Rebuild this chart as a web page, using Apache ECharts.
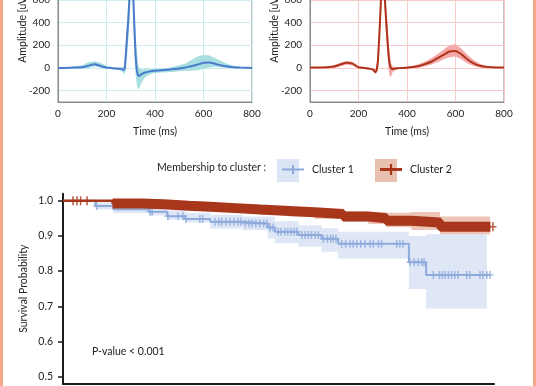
<!DOCTYPE html>
<html><head><meta charset="utf-8">
<script src="https://cdn.jsdelivr.net/npm/echarts@6/dist/echarts.min.js"></script>
<style>html,body{margin:0;padding:0;background:#fff}#c{width:536px;height:386px}</style>
</head><body><div id="c"></div>
<script>
// ---------- ECG average waveforms (ms, uV) ----------
const ecgTime = [0,25,50,75,100,125,150,175,200,225,250,260,270,275,280,285,290,295,300,305,310,315,320,325,330,335,340,350,360,380,400,425,450,475,500,525,550,575,600,625,650,675,700,725,750,775,800];
const c1Mean = [0,0,2,4,6,20,32,18,3,-2,-6,-8,-15,-5,130,280,430,620,900,940,650,360,110,-20,-62,-70,-62,-48,-40,-30,-25,-20,-15,-10,-5,5,15,30,45,48,35,22,13,7,4,2,0];
const c1Low  = [-5,-5,-5,-5,-8,0,12,5,-8,-12,-18,-25,-45,-55,-20,100,250,430,700,750,450,150,-60,-150,-185,-180,-150,-110,-80,-55,-45,-40,-38,-35,-30,-25,-25,-20,-10,5,10,5,0,-2,-2,-3,-5];
const c1High = [5,5,8,15,25,50,60,45,20,8,4,5,10,30,250,420,600,820,1000,1000,820,520,300,150,40,0,-10,-15,-10,-10,-8,-5,0,10,25,40,70,100,115,110,85,60,35,20,10,5,5];
const c2Mean = [3,3,4,6,12,30,45,38,5,0,-8,-15,-35,-15,60,250,470,730,950,780,560,380,230,90,20,-5,-10,-5,-3,0,2,8,18,35,55,85,115,145,150,120,75,40,20,10,7,5,5];
const c2Low  = [-3,-3,-3,-2,2,15,28,22,-5,-8,-15,-30,-55,-45,-10,150,350,600,850,650,430,250,100,-30,-80,-70,-40,-20,-12,-8,-5,-2,5,15,30,50,75,95,100,75,40,18,5,2,2,2,2];
const c2High = [8,8,10,15,25,45,62,55,20,8,0,-2,-15,40,150,380,600,860,1000,900,700,520,380,200,110,40,15,8,6,8,12,20,35,58,85,120,160,200,210,170,115,70,38,20,13,10,9];

// ---------- Kaplan-Meier (months, survival) ----------
const kmTime1 = [0,9,14,24,29,34,41,50,57,59,65.5,72,76.6,96.3,101.1,119];
const kmSurv1 = [1.0,0.985,0.976,0.969,0.956,0.948,0.94,0.935,0.924,0.912,0.9025,0.892,0.878,0.825,0.789,0.789];
const kmLow1  = [1.0,0.975,0.965,0.958,0.946,0.938,0.921,0.916,0.893,0.879,0.869,0.855,0.836,0.749,0.694,0.694];
const kmHigh1 = [1.0,0.995,0.988,0.982,0.972,0.966,0.96,0.955,0.955,0.942,0.93,0.922,0.912,0.9,0.905,0.905];
const kmCiEnd1 = 118.0;
const kmCensor1 = [9.4,24.2,24.8,29.2,32.0,33.4,34.2,38.1,38.9,42.3,43.4,44.2,45.4,46.5,47.6,48.7,49.5,50.7,51.8,52.6,53.7,54.8,55.9,56.8,57.6,58.5,59.9,60.7,61.8,62.6,63.5,64.3,65.1,66.5,67.4,68.3,69.2,70.2,71.1,72.5,73.6,74.5,75.2,76.0,77.6,78.7,79.9,80.8,81.8,82.9,84.1,85.5,86.4,87.8,88.7,92.9,93.8,94.7,96.6,97.8,98.9,99.9,100.5,103.1,104.8,105.6,106.4,107.3,108.2,109.1,110.0,112.4,113.3,116.1,116.9,118.0,118.9];

const kmTime2 = [0,13.8,22,28,35,41,48,55,63,70,78,85,90,97,105,119];
const kmSurv2 = [1.0,0.992,0.99,0.986,0.983,0.979,0.975,0.971,0.967,0.962,0.955,0.95,0.943,0.938,0.926,0.926];
const kmLow2  = [1.0,0.986,0.983,0.979,0.975,0.97,0.965,0.96,0.955,0.949,0.941,0.934,0.925,0.917,0.905,0.905];
const kmHigh2 = [1.0,0.997,0.996,0.993,0.991,0.988,0.985,0.982,0.979,0.975,0.97,0.967,0.966,0.968,0.955,0.955];
const kmCiEnd2 = 118.9;
const kmDenseCensorStart2 = 13.8; // from here on censoring marks merge into a solid band
const kmCensor2 = [2.8,3.9,4.9,6.7,119.7];

const ecgXTicks = [0,200,400,600,800];
const kmYTicks = [0.5,0.6,0.7,0.8,0.9,1.0];

// ---------- helpers ----------
const FONT = 'Lato';
const pair = (xs, ys) => xs.map((x, i) => [x, ys[i]]);
function stepAt(T, S, t) { let v = S[0]; for (let i = 0; i < T.length; i++) { if (T[i] <= t) v = S[i]; else break; } return v; }

const plusPath = 'path://M0,3.3H8V4.7H0Z M3.1,0H4.9V8H3.1Z';

// band polygon through the library's coordinate system
function bandSeries(gi, T, low, high, color, step, endT, z) {
  return {
    type: 'custom', xAxisIndex: gi, yAxisIndex: gi, silent: true, clip: true, z: z || 1,
    data: T.map((t, i) => [t, low[i], high[i]]),
    encode: { x: 0, y: [1, 2] },
    renderItem: function (params, api) {
      if (params.dataIndex !== 0) return null;
      const up = [], dn = [];
      const n = T.length;
      for (let i = 0; i < n; i++) {
        if (step) {
          if (i === n - 1) break;
          const tEnd = (i === n - 2 && endT != null) ? endT : T[i + 1];
          up.push(api.coord([T[i], high[i]]), api.coord([tEnd, high[i]]));
          dn.push(api.coord([T[i], low[i]]), api.coord([tEnd, low[i]]));
        } else {
          up.push(api.coord([T[i], high[i]]));
          dn.push(api.coord([T[i], low[i]]));
        }
      }
      return { type: 'polygon', shape: { points: up.concat(dn.reverse()) }, style: { fill: color } };
    }
  };
}

function ecgGrid(left) {
  return { left: left, top: -45.5, width: 194, height: 147.5, show: true, borderColor: '#8a8a8a', borderWidth: 1, outerBoundsMode: 'none', containLabel: false };
}
function ecgX(gi, grid) {
  return { gridIndex: gi, type: 'value', min: 0, max: 800, interval: 200,
    axisLine: { onZero: false, lineStyle: { color: '#8a8a8a', width: 1 } }, axisTick: { show: false },
    axisLabel: { color: '#222', fontSize: 10, fontFamily: FONT, margin: 7, customValues: ecgXTicks },
    splitLine: { show: true, lineStyle: { color: grid, width: 1 } },
    name: 'Time (ms)', nameLocation: 'middle', nameGap: 24, nameMoveOverlap: false,
    nameTextStyle: { color: '#222', fontSize: 10.5, fontFamily: FONT } };
}
function ecgY(gi, grid) {
  return { gridIndex: gi, type: 'value', min: -300, max: 1000, minInterval: 200, maxInterval: 200,
    axisLine: { show: true, onZero: false, lineStyle: { color: '#8a8a8a', width: 1 } }, axisTick: { show: false },
    axisLabel: { color: '#222', fontSize: 10, fontFamily: FONT, margin: 8, showMinLabel: false },
    splitLine: { show: true, lineStyle: { color: grid, width: 1 } },
    name: 'Amplitude [uV]', nameLocation: 'middle', nameGap: 30, nameMoveOverlap: false,
    nameTextStyle: { color: '#222', fontSize: 10.5, fontFamily: FONT } };
}
function ecgSeries(gi, low, high, mean, bandColor, lineColor) {
  return [
    bandSeries(gi, ecgTime, low, high, bandColor, false, null, 1),
    { type: 'line', xAxisIndex: gi, yAxisIndex: gi, symbol: 'none', smooth: 0.2, silent: true, data: pair(ecgTime, mean), lineStyle: { color: lineColor, width: 2 }, z: 3 }
  ];
}

const C1 = '#8eaadc', C2 = '#a8361b';
const denseIdx = kmTime2.findIndex(t => t >= kmDenseCensorStart2);

const option = {
  animation: false,
  textStyle: { fontFamily: FONT },
  grid: [ecgGrid(58), ecgGrid(310),
    { left: 63, top: 193.7, width: 431, height: 190, outerBoundsMode: 'none', containLabel: false }],
  xAxis: [ecgX(0, '#cdeef0'), ecgX(1, '#f8caca'),
    { gridIndex: 2, type: 'value', min: 0, max: 120,
      axisLine: { onZero: false, lineStyle: { color: '#1a1a1a', width: 2 } }, axisTick: { show: false },
      axisLabel: { show: false }, splitLine: { show: false } }],
  yAxis: [ecgY(0, '#cdeef0'), ecgY(1, '#f8caca'),
    { gridIndex: 2, type: 'value', min: 0.48, max: 1.02,
      axisLine: { show: true, onZero: false, lineStyle: { color: '#1a1a1a', width: 2 } },
      axisTick: { show: true, length: 5, customValues: kmYTicks, lineStyle: { color: '#1a1a1a', width: 1.5 } },
      axisLabel: { customValues: kmYTicks, formatter: v => v.toFixed(1), color: '#222', fontSize: 10.5, fontFamily: FONT, margin: 10 },
      splitLine: { show: false },
      name: 'Survival Probability', nameLocation: 'middle', nameGap: 34, nameMoveOverlap: false,
      nameTextStyle: { color: '#222', fontSize: 10.5, fontFamily: FONT } }],
  legend: [
    { data: ['Cluster 1'], left: 277, top: 159, itemWidth: 22, itemHeight: 23, icon: 'path://M1,10.5H21V12.5H1Z M10.1,7.5H11.9V15.5H10.1Z',
      textStyle: { color: '#222', fontSize: 10.5, fontFamily: FONT, padding: [0, 0, 3, 3] }, z: 10, selectedMode: false },
    { data: ['Cluster 2'], left: 375, top: 159, itemWidth: 22, itemHeight: 23, icon: 'path://M1,9.6H21V12.4H1Z M10,6H12V16H10Z',
      textStyle: { color: '#222', fontSize: 10.5, fontFamily: FONT, padding: [0, 0, 3, 3] }, z: 10, selectedMode: false }
  ],
  graphic: [
    { type: 'rect', left: 0, top: 0, shape: { width: 3, height: 386 }, style: { fill: '#f4a68b' }, z: 100 },
    { type: 'rect', left: 533, top: 0, shape: { width: 3, height: 386 }, style: { fill: '#f4a68b' }, z: 100 },
    { type: 'rect', x: 277, y: 159, shape: { width: 22, height: 23 }, style: { fill: '#dce5f5' }, z: 0 },
    { type: 'rect', x: 375, y: 159, shape: { width: 22, height: 23 }, style: { fill: '#e9c1b1' }, z: 0 },
    { type: 'text', x: 157, y: 168, style: { text: 'Membership to cluster :', fill: '#222', fontSize: 10.5, fontFamily: FONT, verticalAlign: 'middle' }, z: 10 },
    { type: 'text', x: 92, y: 352, style: { text: 'P-value < 0.001', fill: '#222', fontSize: 10.5, fontFamily: FONT, verticalAlign: 'middle' }, z: 10 }
  ],
  series: [].concat(
    ecgSeries(0, c1Low, c1High, c1Mean, '#a9dfe0', '#4a7bcc'),
    ecgSeries(1, c2Low, c2High, c2Mean, '#f3a9a9', '#b0331b'),
    [
      bandSeries(2, kmTime1, kmLow1, kmHigh1, '#dfe7f7', true, kmCiEnd1, 1),
      bandSeries(2, kmTime2, kmLow2, kmHigh2, '#ecc5b6', true, kmCiEnd2, 2),
      { name: 'Cluster 1', type: 'line', xAxisIndex: 2, yAxisIndex: 2, step: 'end', symbol: 'none', data: pair(kmTime1, kmSurv1),
        color: C1, lineStyle: { color: C1, width: 2 }, itemStyle: { color: C1 }, z: 4 },
      { name: 'Cluster 1', type: 'scatter', xAxisIndex: 2, yAxisIndex: 2, symbol: plusPath, symbolSize: [7, 8], symbolKeepAspect: false,
        data: kmCensor1.map(t => [t, stepAt(kmTime1, kmSurv1, t)]), itemStyle: { color: C1 }, z: 4, silent: true },
      { name: 'Cluster 2', type: 'line', xAxisIndex: 2, yAxisIndex: 2, step: 'end', symbol: 'none', data: pair(kmTime2, kmSurv2),
        color: C2, lineStyle: { color: C2, width: 2.5 }, itemStyle: { color: C2 }, z: 5 },
      { name: 'Cluster 2', type: 'line', xAxisIndex: 2, yAxisIndex: 2, step: 'end', symbol: 'none',
        data: pair(kmTime2.slice(denseIdx), kmSurv2.slice(denseIdx)),
        color: C2, lineStyle: { color: C2, width: 10, cap: 'butt' }, itemStyle: { color: C2 }, z: 5 },
      { name: 'Cluster 2', type: 'scatter', xAxisIndex: 2, yAxisIndex: 2, symbol: plusPath, symbolSize: [7, 9], symbolKeepAspect: false,
        data: kmCensor2.map(t => [t, stepAt(kmTime2, kmSurv2, t)]), itemStyle: { color: C2 }, z: 5, silent: true }
    ]
  )
};
const chart = echarts.init(document.getElementById('c'));
chart.setOption(option);
</script>
</body></html>
